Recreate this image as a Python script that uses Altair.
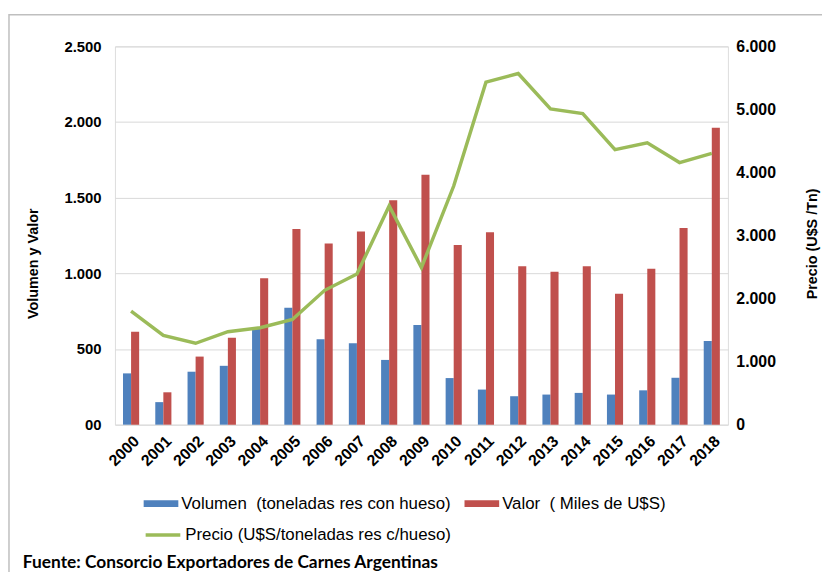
import altair as alt
import pandas as pd

years = [str(y) for y in range(2000, 2019)]
volumen = [339, 149, 350, 389, 640, 772, 564, 538, 428, 658, 308, 232, 188, 199, 210, 199, 227, 310, 553]
valor = [614, 214, 450, 575, 968, 1294, 1198, 1277, 1484, 1652, 1187, 1272, 1047, 1010, 1047, 866, 1030, 1300, 1963]
precio = [1800, 1417, 1291, 1475, 1538, 1669, 2131, 2389, 3469, 2493, 3785, 5433, 5570, 5008, 4934, 4362, 4472, 4157, 4304]

S_VOL = "Volumen\u00a0 (toneladas res con hueso)"
S_VAL = "Valor\u00a0 ( Miles de U$S)"
S_PRE = "Precio (U$S/toneladas res c/hueso)"
left_ticks = [0, 500, 1000, 1500, 2000, 2500]
right_ticks = [0, 1000, 2000, 3000, 4000, 5000, 6000]
source = "Fuente: Consorcio Exportadores de Carnes Argentinas"

rows = []
for i, yr in enumerate(years):
    rows.append({"year": yr, "serie": S_VOL, "v": volumen[i]})
    rows.append({"year": yr, "serie": S_VAL, "v": valor[i]})
df_bars = pd.DataFrame(rows)
df_line = pd.DataFrame({"year": years, "precio": precio, "serie": [S_PRE] * len(years)})

FONT = "Liberation Sans"

x_enc = alt.X(
    "year:N", sort=years, title=None,
    scale=alt.Scale(paddingInner=0.5, paddingOuter=0.25),
    axis=alt.Axis(labelAngle=-45, labelFont=FONT, labelFontWeight="bold", labelFontSize=16,
                  labelColor="black", ticks=False, domain=False, labelPadding=8),
)

left_expr = "datum.value == 0 ? '00' : replace(format(datum.value, ','), ',', '.')"
right_expr = "replace(format(datum.value, ','), ',', '.')"

bars = alt.Chart(df_bars).mark_bar().encode(
    x=x_enc,
    xOffset=alt.XOffset("serie:N", sort=[S_VOL, S_VAL], scale=alt.Scale(paddingInner=0)),
    y=alt.Y("v:Q", scale=alt.Scale(domain=[0, 2500]),
            axis=alt.Axis(values=left_ticks, labelExpr=left_expr, title="Volumen y Valor",
                          titleFont=FONT, titleFontWeight="bold", titleFontSize=14.5, titleColor="black",
                          titleAngle=270, titleX=-89, titleY=219, titleBaseline="top", titleAlign="center",
                          labelFont=FONT, labelFontWeight="bold", labelFontSize=15, labelColor="black",
                          labelPadding=14, ticks=False, domain=False, grid=True, gridColor="#D9D9D9")),
    color=alt.Color("serie:N", sort=[S_VOL, S_VAL],
                    scale=alt.Scale(domain=[S_VOL, S_VAL], range=["#4F81BD", "#C0504D"]),
                    legend=alt.Legend(title=None, orient="none", legendX=29, legendY=444,
                                      direction="horizontal", symbolType="M-1,-0.2H1V0.2H-1Z",
                                      symbolSize=1225, symbolStrokeWidth=0, labelFont=FONT,
                                      labelFontSize=17, labelColor="black", columnPadding=13,
                                      labelOffset=3, labelLimit=0)),
)

line = alt.Chart(df_line).mark_line(strokeWidth=3.5).encode(
    x=x_enc,
    y=alt.Y("precio:Q", scale=alt.Scale(domain=[0, 6000]),
            axis=alt.Axis(orient="right", values=right_ticks, labelExpr=right_expr,
                          title="Precio (U$S /Tn)", titleFont=FONT, titleFontWeight="bold",
                          titleFontSize=14.5, titleColor="black", titleAngle=270, titleX=78, titleY=199,
                          titleBaseline="top", titleAlign="center",
                          labelFont=FONT, labelFontWeight="bold", labelFontSize=16, labelColor="black",
                          labelPadding=8, ticks=False, domain=False, grid=False)),
    stroke=alt.Stroke("serie:N", scale=alt.Scale(domain=[S_PRE], range=["#9BBB59"]),
                      legend=alt.Legend(title=None, orient="none", legendX=29, legendY=474,
                                        direction="horizontal", symbolType="stroke", symbolSize=1225,
                                        symbolStrokeWidth=3.5, labelFont=FONT, labelFontSize=17,
                                        labelColor="black", labelOffset=3, labelLimit=0)),
)

frame = alt.Chart(pd.DataFrame({"k": [1]})).mark_rect(fill=None, stroke="#BFBFBF", strokeWidth=1.5).encode(
    x=alt.value(-107), x2=alt.value(760), y=alt.value(-32), y2=alt.value(700)
)

note = alt.Chart(pd.DataFrame({"t": [source]})).mark_text(
    align="left", baseline="alphabetic", font="Lato", fontWeight="bold", fontSize=17.5, color="black"
).encode(text="t:N", x=alt.value(-93), y=alt.value(527))

chart = alt.layer(frame, bars, line, note).resolve_scale(
    y="independent", color="independent"
).properties(
    width=619, height=382,
    autosize=alt.AutoSizeParams(type="none"),
    padding={"left": 108, "top": 36, "right": 95, "bottom": 146},
).configure_view(stroke="#BFBFBF", strokeWidth=1.2).configure(background="white")

chart.save("out.html", embed_options={"renderer": "svg", "actions": False})
